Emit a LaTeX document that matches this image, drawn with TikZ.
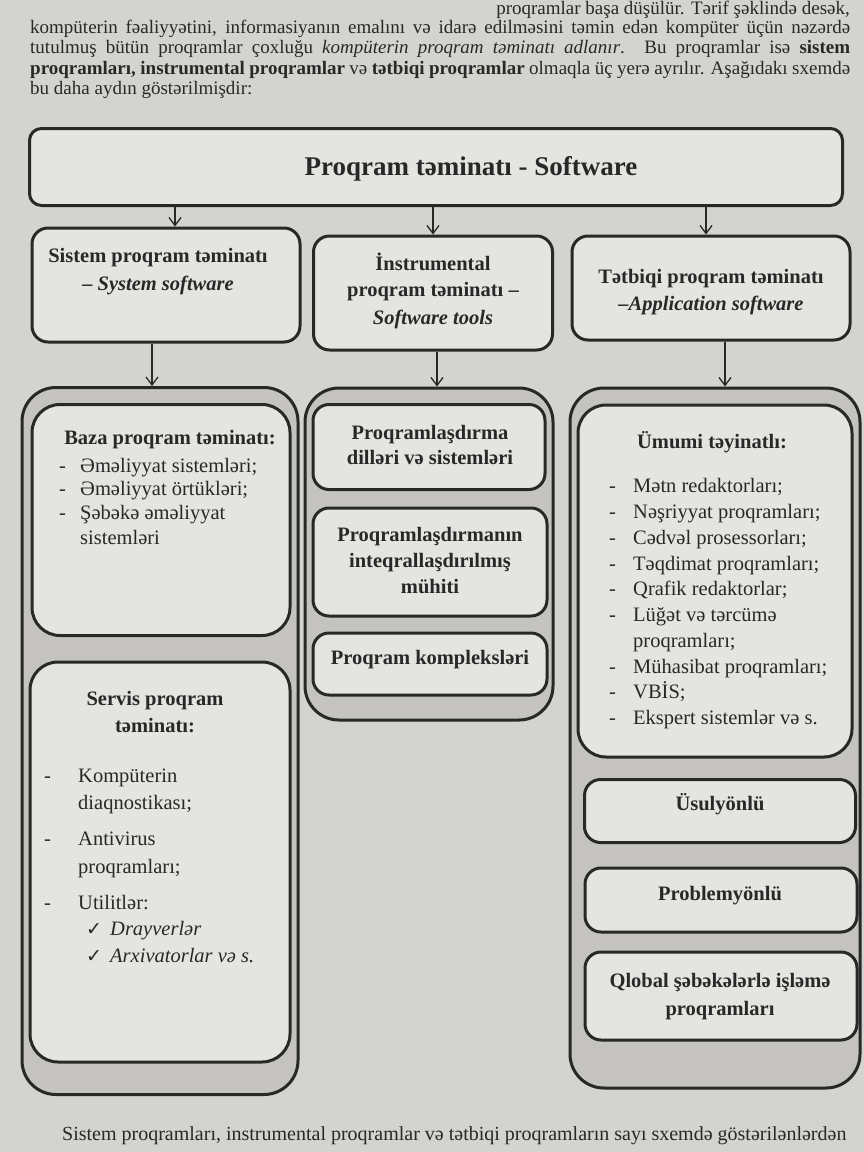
\documentclass[tikz,border=0pt]{standalone}
\usepackage{fontspec}
\setmainfont{Liberation Serif}
\newfontfamily\symfont{DejaVu Sans}
\usetikzlibrary{arrows.meta}

\definecolor{paper}{RGB}{211,211,207}
\definecolor{boxfill}{RGB}{228,228,225}
\definecolor{groupfill}{RGB}{196,195,192}
\definecolor{ink}{RGB}{40,40,40}

\tikzset{
  box/.style={draw=ink, line width=3pt, rounded corners=16pt, fill=boxfill, inner sep=0pt},
  bigbox/.style={box, rounded corners=28pt},
  group/.style={draw=ink, line width=3pt, rounded corners=34pt, fill=groupfill, inner sep=0pt},
  arr/.style={draw=ink, line width=1.3pt, -{Straight Barb[length=8pt,width=12pt,line width=1.3pt]}},
  ttl/.style={font=\fontsize{27}{32}\selectfont\bfseries, anchor=base, inner sep=0pt, text=ink},
  hd/.style={font=\fontsize{20.5}{24}\selectfont\bfseries, anchor=base, inner sep=0pt, text=ink},
  itm/.style={font=\fontsize{20.5}{24}\selectfont, anchor=base west, inner sep=0pt, text=ink},
  par/.style={font=\fontsize{19}{22}\selectfont, anchor=base west, inner sep=0pt, text=ink},
  tick/.style={font=\symfont\fontsize{19}{22}\selectfont, anchor=base west, inner sep=0pt, text=ink},
}

\begin{document}
\begin{tikzpicture}[x=1pt,y=-1pt]
\useasboundingbox (0,0) rectangle (864,1152);
\clip (0,0) rectangle (864,1152);
\fill[paper] (0,0) rectangle (864,1152);

% ---- running text above the scheme ----
\node[par, anchor=base east] (p1) at (850,14) {proqramlar başa düşülür. Tərif şəklində desək,};
\node[par] (p2) at (30,33) {\makebox[820pt][s]{kompüterin fəaliyyətini, informasiyanın emalını və idarə edilməsini təmin edən kompüter üçün nəzərdə}};
\node[par] (p3) at (30,53) {\makebox[820pt][s]{tutulmuş bütün proqramlar çoxluğu \textit{kompüterin proqram təminatı adlanır}. Bu proqramlar isə \textbf{sistem}}};
\node[par] (p4) at (30,74) {\makebox[820pt][s]{\textbf{proqramları, instrumental proqramlar} və \textbf{tətbiqi proqramlar} olmaqla üç yerə ayrılır. Aşağıdakı sxemdə}};
\node[par] (p5) at (30,94) {bu daha aydın göstərilmişdir:};

% ---- top level ----
\node[box, rounded corners=12pt, minimum width=813pt, minimum height=77pt] (top) at (436,167) {};
\node[ttl] (topT) at (471,175) {Proqram təminatı - Software};

% ---- second level ----
\node[box, minimum width=268pt, minimum height=114pt] (sys) at (166,285) {};
\node[box, minimum width=239pt, minimum height=114pt] (ins) at (433,293) {};
\node[box, minimum width=278pt, minimum height=104pt] (app) at (711,288) {};

\node[hd] (sysA) at (158,262) {Sistem proqram təminatı};
\node[hd] (sysB) at (158,290) {\itshape – System software};
\node[hd] (insA) at (433,270) {İnstrumental};
\node[hd] (insB) at (433,296) {proqram təminatı –};
\node[hd] (insC) at (433,324) {\itshape Software tools};
\node[hd] (appA) at (711,283) {Tətbiqi proqram təminatı};
\node[hd] (appB) at (711,310) {\itshape –Application software};

% ---- column groups ----
\node[group, minimum width=276pt, minimum height=707pt] (leftG) at (160,741) {};
\node[group, minimum width=248pt, minimum height=332pt] (midG) at (429,554) {};
\node[group, minimum width=290pt, minimum height=700pt] (rightG) at (715,738) {};

% ---- connectors ----
\coordinate (x1) at (175,0);
\coordinate (x2) at (433,0);
\coordinate (x3) at (706,0);
\coordinate (y1) at (152,0);
\coordinate (y2) at (437,0);
\coordinate (y3) at (725,0);
\draw[arr] (top.south -| x1) -- (sys.north -| x1);
\draw[arr] (top.south -| x2) -- (ins.north -| x2);
\draw[arr] (top.south -| x3) -- (app.north -| x3);
\draw[arr] (sys.south -| y1) -- (leftG.north -| y1);
\draw[arr] (ins.south -| y2) -- (midG.north -| y2);
\draw[arr] (app.south -| y3) -- (rightG.north -| y3);

% ---- system software ----
\node[bigbox, minimum width=258pt, minimum height=231pt] (baza) at (161,520) {};
\node[hd] (bazaH) at (170,444) {Baza proqram təminatı:};
\foreach \y/\t [count=\i] in {472/Əməliyyat sistemləri;, 495/Əməliyyat örtükləri;, 519/Şəbəkə əməliyyat}
  {\node[itm] (bazaD\i) at (59,\y) {-}; \node[itm] (bazaI\i) at (80,\y) {\t};}
\node[itm] (bazaI4) at (80,544) {sistemləri};

\node[bigbox, minimum width=260pt, minimum height=400pt] (servis) at (160,862) {};
\node[hd] (servisH1) at (155,705) {Servis proqram};
\node[hd] (servisH2) at (155,732) {təminatı:};
\node[itm] (servisD1) at (44,782) {-};
\node[itm] (servisI1) at (78,782) {Kompüterin};
\node[itm] (servisI2) at (78,809) {diaqnostikası;};
\node[itm] (servisD2) at (44,845) {-};
\node[itm] (servisI3) at (78,845) {Antivirus};
\node[itm] (servisI4) at (78,873) {proqramları;};
\node[itm] (servisD3) at (44,909) {-};
\node[itm] (servisI5) at (78,909) {Utilitlər:};
\node[tick] (servisC1) at (86,935) {✓};
\node[itm] (servisI6) at (110,935) {\itshape Drayverlər};
\node[tick] (servisC2) at (86,962) {✓};
\node[itm] (servisI7) at (110,962) {\itshape Arxivatorlar və s.};

% ---- software tools ----
\node[box, minimum width=232pt, minimum height=85pt] (dil) at (429,447) {};
\node[hd] (dilA) at (430,439) {Proqramlaşdırma};
\node[hd] (dilB) at (430,464) {dilləri və sistemləri};
\node[box, minimum width=234pt, minimum height=108pt] (ide) at (430,562) {};
\node[hd] (ideA) at (430,541) {Proqramlaşdırmanın};
\node[hd] (ideB) at (430,567) {inteqrallaşdırılmış};
\node[hd] (ideC) at (430,593) {mühiti};
\node[box, minimum width=234pt, minimum height=62pt] (kompl) at (430,664) {};
\node[hd] (komplT) at (430,664) {Proqram kompleksləri};

% ---- application software ----
\node[bigbox, minimum width=274pt, minimum height=352pt] (umumi) at (715,581) {};
\node[hd] (umumiH) at (712,448) {Ümumi təyinatlı:};
\foreach \y/\t [count=\i] in {492/Mətn redaktorları;, 518/Nəşriyyat proqramları;, 544/Cədvəl prosessorları;, 570/Təqdimat proqramları;, 595/Qrafik redaktorlar;, 621/Lüğət və tərcümə, 673/Mühasibat proqramları;, 698/VBİS;, 724/Ekspert sistemlər və s.}
  {\node[itm] (umumiD\i) at (609,\y) {-}; \node[itm] (umumiI\i) at (633,\y) {\t};}
\node[itm] (umumiX) at (633,647) {proqramları;};

\node[box, minimum width=271pt, minimum height=63pt] (usul) at (720,811) {};
\node[hd] (usulT) at (720,810) {Üsulyönlü};
\node[box, minimum width=272pt, minimum height=64pt] (probl) at (721,900) {};
\node[hd] (problT) at (720,900) {Problemyönlü};
\node[box, minimum width=272pt, minimum height=88pt] (qlobal) at (721,996) {};
\node[hd] (qlobalA) at (720,987) {Qlobal şəbəkələrlə işləmə};
\node[hd] (qlobalB) at (720,1015) {proqramları};

% ---- running text below the scheme ----
\node[par, font=\fontsize{20}{24}\selectfont] (q1) at (62,1140) {Sistem proqramları, instrumental proqramlar və tətbiqi proqramların sayı sxemdə göstərilənlərdən};
\end{tikzpicture}
\end{document}
